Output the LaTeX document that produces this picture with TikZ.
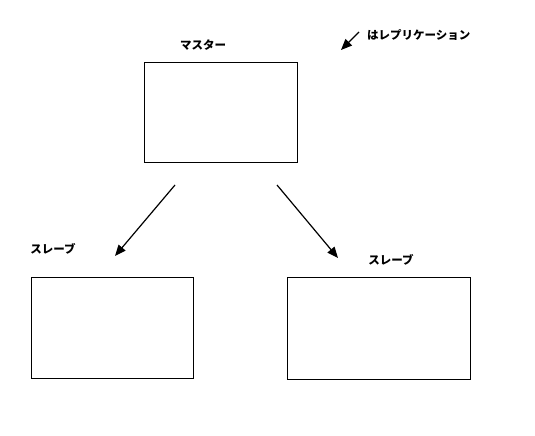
\documentclass[tikz,border=0pt]{standalone}
\usepackage{fontspec}
\newfontfamily\jpfont{Noto Sans CJK JP}[BoldFont={* Black}]
\usepackage{tikz}
\usetikzlibrary{arrows.meta,positioning}

\tikzset{
  server/.style={draw,line width=1.2pt,anchor=north west,inner sep=0pt},
  lbl/.style={font=\jpfont\bfseries\fontsize{11.5}{13}\selectfont,inner sep=0pt},
  repl/.style={-{Triangle[length=11pt,width=9pt]},line width=1.2pt}
}

\begin{document}
\begin{tikzpicture}[x=1pt,y=-1pt]
\useasboundingbox (0,0) rectangle (535,436);
% servers
\node[server,minimum width=153pt,minimum height=100pt] (master) at (144,62) {};
\node[server,minimum width=162pt,minimum height=101pt] (slaveL) at (31,277) {};
\node[server,minimum width=183pt,minimum height=102pt] (slaveR) at (287,277) {};
% labels
\node[lbl] (masterlbl) at (203,45) {マスター};
\node[lbl] (slaveLlbl) at (53,249) {スレーブ};
\node[lbl] (slaveRlbl) at (391,260) {スレーブ};
% replication arrows
\coordinate (mL) at (175,185);
\coordinate (mR) at (277,185);
\coordinate (sL) at (115,256);
\coordinate (sR) at (338,258);
\draw[repl] (mL) -- (sL);
\draw[repl] (mR) -- (sR);
% legend
\coordinate (legA) at (359,32);
\coordinate (legB) at (341,50);
\draw[repl] (legA) -- (legB);
\node[lbl,anchor=west] (legtxt) at (367,35) {はレプリケーション};
\end{tikzpicture}
\end{document}
